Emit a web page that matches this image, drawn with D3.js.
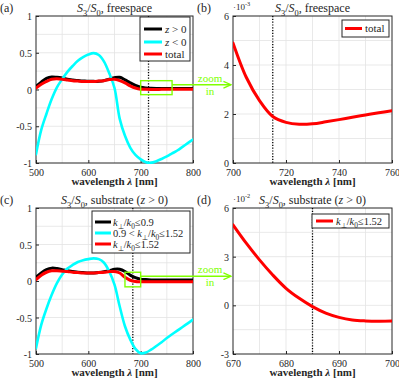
<!DOCTYPE html>
<html><head><meta charset="utf-8">
<script src="https://cdn.jsdelivr.net/npm/d3@7"></script>
<style>
body{margin:0;background:#fff}
svg{display:block}
</style>
</head><body>
<script>
// ---------- data ----------
const wlFull = [500,510,520,530,540,550,560,570,580,590,600,610,620,630,640,650,660,670,680,690,700,710,720,730,740,750,760,770,780,790,800];
// (a) freespace
const aPos = [0.03,0.09,0.14,0.16,0.155,0.145,0.13,0.12,0.11,0.105,0.10,0.10,0.10,0.11,0.13,0.15,0.155,0.12,0.08,0.045,0.02,0.01,0.006,0.004,0.004,0.004,0.004,0.004,0.004,0.004,0.004];
const aNeg = [-0.88,-0.55,-0.33,-0.13,0.03,0.14,0.24,0.32,0.39,0.44,0.475,0.495,0.47,0.38,0.22,0.02,-0.40,-0.63,-0.79,-0.89,-0.95,-0.99,-0.995,-0.975,-0.945,-0.91,-0.87,-0.83,-0.78,-0.73,-0.68];
const aTot = [0.02,0.07,0.11,0.14,0.145,0.14,0.13,0.12,0.115,0.11,0.11,0.11,0.115,0.12,0.135,0.14,0.12,0.09,0.05,0.02,0.0049,0.0026,0.00165,0.0016,0.00175,0.00195,0.0021,0.0023,0.0025,0.0027,0.0029];
// (b) zoom of total, units of 1e-3
const wlB = [700,705,710,715,720,725,730,735,740,745,750,755,760];
const bTot = [4.9,3.5,2.55,1.9,1.66,1.58,1.6,1.68,1.77,1.87,1.96,2.05,2.13];
// (c) substrate
const cLow = [0.04,0.10,0.145,0.165,0.16,0.145,0.13,0.12,0.11,0.105,0.10,0.10,0.105,0.115,0.13,0.15,0.15,0.12,0.07,0.035,0.015,0.008,0.004,0.003,0.003,0.003,0.003,0.003,0.003,0.003,0.003];
const cMid = [-0.92,-0.60,-0.38,-0.19,-0.03,0.09,0.17,0.22,0.26,0.285,0.30,0.31,0.30,0.25,0.13,-0.05,-0.35,-0.62,-0.80,-0.93,-0.99,-0.98,-0.94,-0.89,-0.84,-0.78,-0.73,-0.68,-0.63,-0.58,-0.53];
const cAll = [0.02,0.08,0.12,0.14,0.14,0.135,0.13,0.12,0.115,0.11,0.11,0.11,0.115,0.12,0.13,0.13,0.11,0.05,0.0105,-0.0074,-0.0097,-0.01,-0.01,-0.01,-0.01,-0.01,-0.01,-0.01,-0.01,-0.01,-0.01];
// (d) zoom, units of 1e-2
const wlD = [670,672.5,675,677.5,680,682.5,685,687.5,690,692.5,695,697.5,700];
const dAll = [4.96,3.83,2.8,1.87,1.05,0.43,-0.08,-0.48,-0.74,-0.9,-0.96,-0.98,-0.97];

const xTicksA = [500,600,700,800], yTicksA = [-1,-0.5,0,0.5,1];
const xTicksB = [700,720,740,760], yTicksB = [0,2,4,6];
const xTicksD = [670,680,690,700], yTicksD = [-3,0,3,6];

const BLACK='#000', CYAN='#00ffff', RED='#ff0000', GREEN='#80ff00', AX='#262626';
const FONT='"Liberation Serif"';

const svg = d3.select('body').append('svg').attr('width',399).attr('height',381);

function rich(g,x,y,parts,size,anchor,fill){
  const t=g.append('text').attr('x',x).attr('y',y).attr('font-size',size)
    .attr('text-anchor',anchor||'start').attr('fill',fill||AX).style('white-space','pre');
  let shift=0;
  parts.forEach(p=>{
    const ts=t.append('tspan').text(p.t);
    const target=p.sub?size*0.3:(p.sup?-size*0.4:0);
    if(target!==shift) ts.attr('dy',target-shift);
    shift=target;
    if(p.sub||p.sup) ts.attr('font-size',size*0.7);
    if(p.i) ts.style('font-style','italic');
  });
  return t;
}

function panel(cfg){
  const g=svg.append('g');
  const x=d3.scaleLinear().domain(cfg.xd).range([cfg.x0,cfg.x1]);
  const y=d3.scaleLinear().domain(cfg.yd).range([cfg.y1,cfg.y0]);
  cfg.xg.forEach(v=>g.append('line').attr('x1',x(v)).attr('x2',x(v)).attr('y1',cfg.y0).attr('y2',cfg.y1).attr('stroke','#e3e3e3').attr('stroke-width',0.8));
  cfg.yg.forEach(v=>g.append('line').attr('y1',y(v)).attr('y2',y(v)).attr('x1',cfg.x0).attr('x2',cfg.x1).attr('stroke','#e3e3e3').attr('stroke-width',0.8));
  const xa=g.append('g').attr('transform',`translate(0,${cfg.y1})`)
    .call(d3.axisBottom(x).tickValues(cfg.xt).tickSizeInner(-3).tickSizeOuter(0).tickPadding(6));
  const ya=g.append('g').attr('transform',`translate(${cfg.x0},0)`)
    .call(d3.axisLeft(y).tickValues(cfg.yt).tickFormat(d=>String(d)).tickSizeInner(-3).tickSizeOuter(0).tickPadding(4));
  [xa,ya].forEach(a=>{a.attr('font-family',null);a.select('.domain').remove();a.selectAll('line').attr('stroke',AX);
    a.selectAll('text').attr('font-size',10).attr('fill',AX);});
  ya.selectAll('text').attr('dy','0.35em');
  g.append('rect').attr('x',cfg.x0).attr('y',cfg.y0).attr('width',cfg.x1-cfg.x0).attr('height',cfg.y1-cfg.y0)
    .attr('fill','none').attr('stroke',AX).attr('stroke-width',1);
  rich(g,(cfg.x0+cfg.x1)/2,cfg.y1+22,[{t:'wavelength '},{t:'λ',i:true},{t:' [nm]'}],11,'middle').style('font-weight','bold');
  rich(g,(cfg.x0+cfg.x1)/2,cfg.y0-4,cfg.title,12,'middle');
  g.append('text').attr('x',cfg.x0-36).attr('y',cfg.y0-4).attr('font-size',12).attr('fill',AX).text(cfg.label);
  if(cfg.exp) rich(g,cfg.x0,cfg.y0-6,[{t:'·10'},{t:cfg.exp,sup:true}],9,'start');
  g.append('line').attr('x1',x(cfg.dot)).attr('x2',x(cfg.dot)).attr('y1',cfg.y0).attr('y2',cfg.y1)
    .attr('stroke','#000').attr('stroke-width',1.3).attr('stroke-dasharray','1.2 1.6');
  const clip='clip'+cfg.label.replace(/\W/g,'');
  svg.append('clipPath').attr('id',clip).append('rect').attr('x',cfg.x0).attr('y',cfg.y0-2).attr('width',cfg.x1-cfg.x0).attr('height',cfg.y1-cfg.y0+4);
  const cg=g.append('g').attr('clip-path',`url(#${clip})`);
  cfg.series.forEach(s=>{
    const line=d3.line().x((d,i)=>x(s.xs[i])).y(d=>y(d)).curve(d3.curveCatmullRom.alpha(0.5));
    cg.append('path').attr('d',line(s.ys)).attr('fill','none').attr('stroke',s.c).attr('stroke-width',s.w)
      .attr('stroke-linejoin','round').attr('stroke-linecap','round')
      .attr('transform',s.dy?`translate(0,${s.dy})`:null);
  });
  return {g,x,y};
}

const title1=[{t:'S',i:true},{t:'3',sub:true},{t:'/'},{t:'S',i:true},{t:'0',sub:true},{t:', freespace'}];
const title2=[{t:'S',i:true},{t:'3',sub:true},{t:'/'},{t:'S',i:true},{t:'0',sub:true},{t:', substrate ('},{t:'z',i:true},{t:' > 0)'}];

const A=panel({x0:36,x1:193,y0:16,y1:163,xd:[500,800],yd:[-1,1],xt:xTicksA,yt:yTicksA,
  xg:[550,600,650,700,750],yg:[-0.75,-0.5,-0.25,0,0.25,0.5,0.75],title:title1,label:'(a)',dot:715,
  series:[{xs:wlFull,ys:aPos,c:BLACK,w:3,dy:-0.8},{xs:wlFull,ys:aNeg,c:CYAN,w:2.6},{xs:wlFull,ys:aTot,c:RED,w:3}]});
const B=panel({x0:233,x1:392,y0:16,y1:163,xd:[700,760],yd:[0,6],xt:xTicksB,yt:yTicksB,
  xg:[710,720,730,740,750],yg:[1,2,3,4,5],title:title1,label:'(b)',dot:715,exp:'-3',
  series:[{xs:wlB,ys:bTot,c:RED,w:3}]});
const C=panel({x0:36,x1:193,y0:208,y1:354,xd:[500,800],yd:[-1,1],xt:xTicksA,yt:yTicksA,
  xg:[550,600,650,700,750],yg:[-0.75,-0.5,-0.25,0,0.25,0.5,0.75],title:title2,label:'(c)',dot:685,
  series:[{xs:wlFull,ys:cLow,c:BLACK,w:3,dy:-0.8},{xs:wlFull,ys:cMid,c:CYAN,w:2.6},{xs:wlFull,ys:cAll,c:RED,w:3}]});
const D=panel({x0:233,x1:392,y0:208,y1:354,xd:[670,700],yd:[-3,6],xt:xTicksD,yt:yTicksD,
  xg:[675,680,685,690,695],yg:[-1.5,0,1.5,3,4.5],title:title2,label:'(d)',dot:685,exp:'-2',
  series:[{xs:wlD,ys:dAll,c:RED,w:3}]});

function legend(x,y,w,h,rows,lx0,lx1,tx,fs){
  const g=svg.append('g');
  g.append('rect').attr('x',x).attr('y',y).attr('width',w).attr('height',h).attr('fill','#fff').attr('stroke',AX).attr('stroke-width',1);
  rows.forEach(r=>{
    g.append('line').attr('x1',lx0).attr('x2',lx1).attr('y1',r.y).attr('y2',r.y).attr('stroke',r.c).attr('stroke-width',3);
    rich(g,tx,r.y+3.5,r.parts,fs||11,'start');
  });
}
const kk=[{t:'k',i:true},{t:'⊥',sub:true},{t:'/'},{t:'k',i:true},{t:'0',sub:true}];
legend(140,17,50,44,[
  {y:29,c:BLACK,parts:[{t:'z',i:true},{t:' > 0'}]},
  {y:42,c:CYAN,parts:[{t:'z',i:true},{t:' < 0'}]},
  {y:54,c:RED,parts:[{t:'total'}]}],144,162,165);
legend(342,20,47,17,[{y:28.5,c:RED,parts:[{t:'total'}]}],345,362,365);
legend(92,211,98,42,[
  {y:222,c:BLACK,parts:kk.concat([{t:'≤0.9'}])},
  {y:233,c:CYAN,parts:[{t:'0.9 < '}].concat(kk,[{t:'≤1.52'}])},
  {y:244,c:RED,parts:kk.concat([{t:'≤1.52'}])}],95,111,113,10.5);
legend(312,214,77,14,[{y:221,c:RED,parts:kk.concat([{t:'≤1.52'}])}],316,333,336,10.5);

const defs=svg.append('defs');
defs.append('marker').attr('id','arr').attr('viewBox','0 0 10 10').attr('refX',9).attr('refY',5)
  .attr('markerWidth',6).attr('markerHeight',6).attr('orient','auto')
  .append('path').attr('d','M0,1 L9,5 L0,9').attr('fill','none').attr('stroke',GREEN).attr('stroke-width',1.6);
function zoomBox(P,xa,xb,ya,yb,tx){
  const x1=P.x(xa),x2=P.x(xb),y1=P.y(ya),y2=P.y(yb);
  svg.append('rect').attr('x',x1).attr('y',y1).attr('width',x2-x1).attr('height',y2-y1)
    .attr('fill','none').attr('stroke',GREEN).attr('stroke-width',1.4);
  const ym=y1+4;
  svg.append('line').attr('x1',x2).attr('x2',231).attr('y1',ym).attr('y2',ym)
    .attr('stroke',GREEN).attr('stroke-width',1.4).attr('marker-end','url(#arr)');
  svg.append('text').attr('x',tx).attr('y',ym-3).attr('text-anchor','middle').attr('font-size',11).attr('fill',GREEN).text('zoom');
  svg.append('text').attr('x',tx).attr('y',ym+10).attr('text-anchor','middle').attr('font-size',11).attr('fill',GREEN).text('in');
}
zoomBox(A,700,760,0.12,-0.07,210);
zoomBox(C,670,700,0.12,-0.08,210);

svg.selectAll('text').style('font-family',FONT);
</script>
</body></html>
